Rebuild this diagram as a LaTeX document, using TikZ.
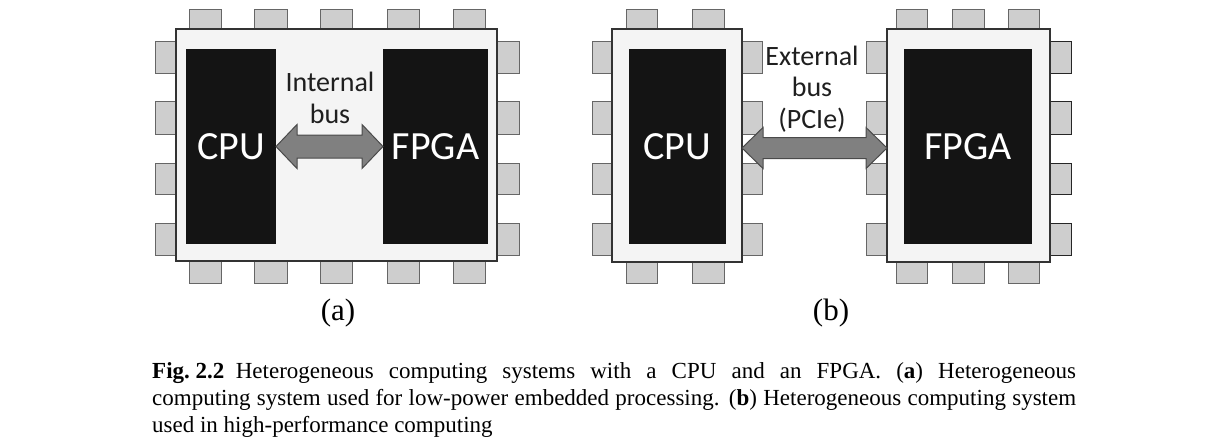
\documentclass[tikz,border=0pt]{standalone}
\usepackage{fontspec}
\setmainfont{Liberation Serif}
\newfontfamily\chipfont{Carlito}
\usetikzlibrary{calc}
\definecolor{pingray}{HTML}{CECECE}
\definecolor{pinedge}{HTML}{666666}
\definecolor{chipgray}{HTML}{F4F4F4}
\definecolor{chipedge}{HTML}{333333}
\definecolor{diegray}{HTML}{141414}
\definecolor{busgray}{HTML}{808080}
\definecolor{busedge}{HTML}{4A4A4A}

\begin{document}
\begin{tikzpicture}[x=1pt,y=-1pt,
  pin/.style={draw=pinedge,fill=pingray,line width=1},
  chip/.style={draw=chipedge,fill=chipgray,line width=1.5,inner sep=0,outer sep=0},
  die/.style={fill=diegray,inner sep=0,outer sep=0,text=white,font=\chipfont\fontsize{40}{40}\selectfont},
  bus/.style={draw=busedge,fill=busgray,line width=1,line join=miter},
  busText/.style={align=center,text=black!88,font=\chipfont\fontsize{28}{31.5}\selectfont}]
\useasboundingbox (0,0) rectangle (1226,445);

% pins of (a)
\draw[pin] (189,9) rectangle (221,31) (254,9) rectangle (287,31) (320,9) rectangle (352,31) (387,9) rectangle (419,31) (453,9) rectangle (485,31);
\draw[pin] (189,259) rectangle (221,283) (254,259) rectangle (287,283) (320,259) rectangle (352,283) (387,259) rectangle (419,283) (453,259) rectangle (485,283);
\draw[pin] (155,41) rectangle (178,73) (155,101) rectangle (178,134) (155,163) rectangle (178,194) (155,223) rectangle (178,255);
\draw[pin] (495,41) rectangle (519,73) (495,101) rectangle (519,134) (495,163) rectangle (519,194) (495,223) rectangle (519,255);

% pins of (b)
\draw[pin] (626,9) rectangle (657,31) (692,9) rectangle (724,31);
\draw[pin] (626,260) rectangle (657,283) (692,260) rectangle (724,283);
\draw[pin] (592,41) rectangle (614,73) (592,101) rectangle (614,134) (592,163) rectangle (614,194) (592,223) rectangle (614,255);
\draw[pin] (740,41) rectangle (762,73) (740,101) rectangle (762,134) (740,163) rectangle (762,194) (740,223) rectangle (762,255);
\draw[pin] (896,9) rectangle (927,31) (952,9) rectangle (984,31) (1008,9) rectangle (1039,31);
\draw[pin] (896,260) rectangle (927,283) (952,260) rectangle (984,283) (1008,260) rectangle (1039,283);
\draw[pin] (866,41) rectangle (889,73) (866,101) rectangle (889,134) (866,163) rectangle (889,194) (866,223) rectangle (889,255);
\draw[pin,draw=black!85] (1048,41) rectangle (1071,73) (1048,101) rectangle (1071,134) (1048,163) rectangle (1071,194) (1048,223) rectangle (1071,255);

% chips
\node[chip,minimum width=321,minimum height=232] (chipA) at (336.5,145) {};
\node[chip,minimum width=130,minimum height=233] (cpuChipB) at (677,145.5) {};
\node[chip,minimum width=163,minimum height=233] (fpgaChipB) at (968.5,145.5) {};

\node[die,minimum width=90,minimum height=195] (cpuA) at (231,146.5) {CPU};
\node[die,minimum width=105,minimum height=195] (fpgaA) at (435.5,146.5) {FPGA};
\node[die,minimum width=97,minimum height=195] (cpuB) at (677.5,146.5) {CPU};
\node[die,minimum width=128,minimum height=195] (fpgaB) at (968,146.5) {FPGA};

% buses
\draw[bus] (cpuA.east) -- ++(21,-22) -- ++(0,10.5) -- ($(fpgaA.west)+(-21,-11.5)$) -- ++(0,-10.5) -- (fpgaA.west)
  -- ++(-21,22) -- ++(0,-10.5) -- ($(cpuA.east)+(21,11.5)$) -- ++(0,10.5) -- cycle;
\coordinate (busBl) at ($(cpuChipB.east)+(0,2.5)$);
\coordinate (busBr) at ($(fpgaChipB.west)+(0,2.5)$);
\draw[bus] (busBl) -- ++(21,-20.5) -- ++(0,10) -- ($(busBr)+(-21,-10.5)$) -- ++(0,-10) -- (busBr)
  -- ++(-21,20.5) -- ++(0,-10) -- ($(busBl)+(21,10.5)$) -- ++(0,10) -- cycle;

\node[busText] (busLabelA) at (330,98) {Internal\\bus};
\node[busText] (busLabelB) at (812,89) {External\\bus\\(PCIe)};

\node[font=\fontsize{31}{31}\selectfont] (subA) at (338,313) {(a)};
\node[font=\fontsize{31}{31}\selectfont] (subB) at (831,313) {(b)};

\node[anchor=north west,inner sep=0,text width=924,align=justify,font=\fontsize{23}{27}\selectfont] (caption) at (152,362)
  {\tolerance=10000 \mbox{\textbf{Fig.\ 2.2}}\enskip Heterogeneous computing systems with a CPU and an FPGA. (\textbf{a}) Heterogeneous\linebreak
   computing system used for low-power embedded processing. (\textbf{b}) Heterogeneous computing system\linebreak
   used in high-performance computing};
\end{tikzpicture}
\end{document}
